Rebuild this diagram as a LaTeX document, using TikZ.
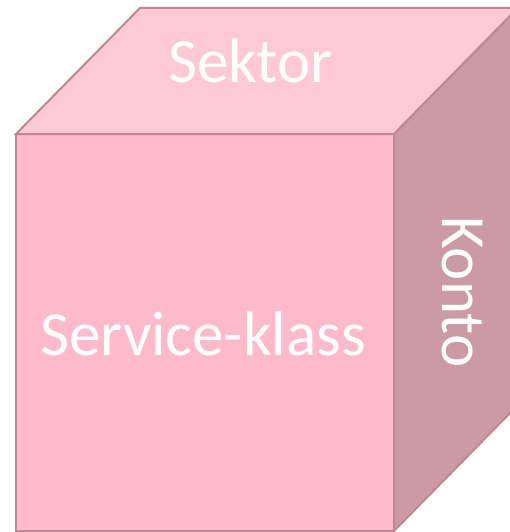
\documentclass[tikz,border=0pt]{standalone}
\usepackage{fontspec}
\setmainfont{Carlito}
\definecolor{frontc}{RGB}{255,187,204}
\definecolor{topc}{RGB}{255,201,215}
\definecolor{sidec}{RGB}{204,153,166}
\definecolor{edgec}{RGB}{190,135,150}
\begin{document}
\begin{tikzpicture}[x=1pt,y=-1pt,
  face/.style={draw=edgec,line width=2pt,line join=miter},
  lab/.style={text=white,inner sep=0pt,font=\fontsize{63}{70}\selectfont,anchor=base west}]
\useasboundingbox (0,0) rectangle (510,532);
\clip (0,0) rectangle (510,532);
\coordinate (A) at (16,134);
\coordinate (B) at (394,134);
\coordinate (C) at (394,531);
\coordinate (D) at (16,531);
\coordinate (E) at (140,8);
\coordinate (F) at (518,8);
\coordinate (G) at (518,405);
\fill[topc] (A) -- (E) -- (F) -- (B) -- cycle;
\fill[sidec] (B) -- (F) -- (G) -- (C) -- cycle;
\fill[frontc] (A) -- (B) -- (C) -- (D) -- cycle;
\draw[face] (A) -- (E) -- (F) -- (B) -- cycle;
\draw[face] (B) -- (F) -- (G) -- (C) -- cycle;
\draw[face] (A) -- (B) -- (C) -- (D) -- cycle;
\node[lab] (sektor) at (168,83) {Sektor};
\node[lab] (service) at (40,355) {Service-klass};
\node[lab,rotate=-90] (konto) at (442,216) {Konto};
\end{tikzpicture}
\end{document}
